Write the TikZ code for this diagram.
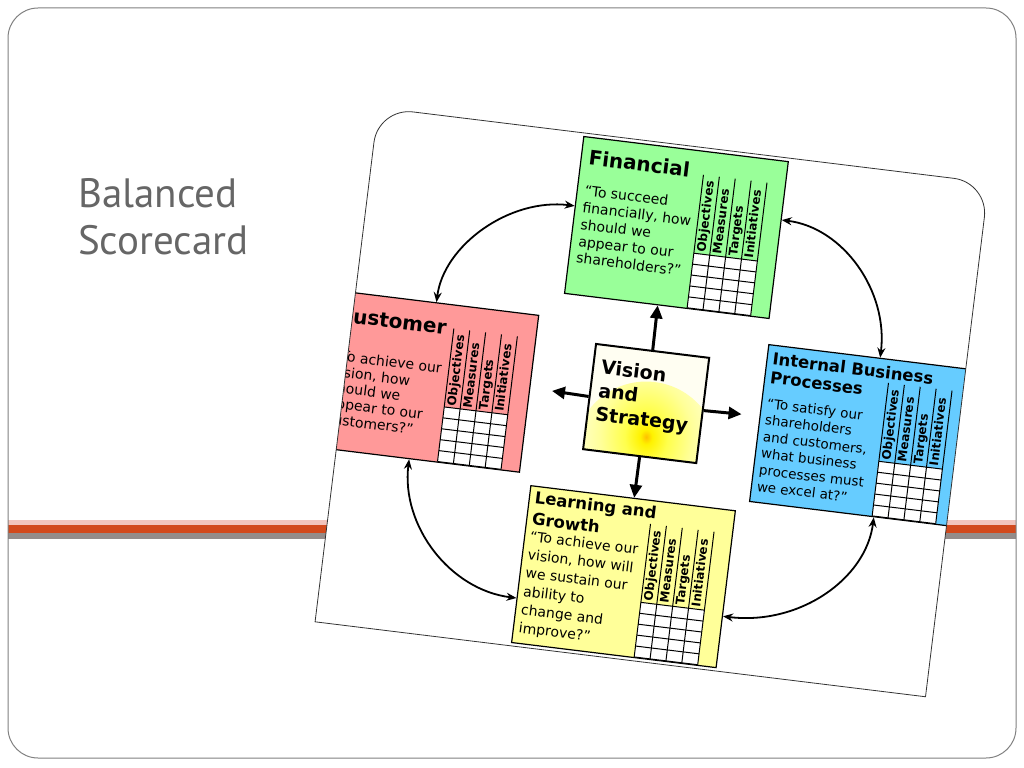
\documentclass[tikz,border=0pt]{standalone}
\usepackage{fontspec}
\setmainfont{DejaVu Sans}
\newfontfamily\slidefont{PT Sans}
\usepackage{xcolor}
\usetikzlibrary{arrows.meta, calc}

\definecolor{fingreen}{HTML}{99FF99}
\definecolor{custpink}{HTML}{FF9999}
\definecolor{procblue}{HTML}{66CCFF}
\definecolor{learnyellow}{HTML}{FFFF99}
\definecolor{bandorange}{HTML}{D2491C}
\definecolor{bandpink}{HTML}{F2C4BC}
\definecolor{bandgray}{HTML}{948C8A}
\definecolor{titlegray}{HTML}{666666}

\pgfdeclareradialshading{vsglow}{\pgfpoint{0bp}{0bp}}{color(0bp)=(orange!50!yellow); color(2bp)=(yellow!90!orange); color(7bp)=(yellow!70!white); color(15bp)=(yellow!40!white); color(25bp)=(yellow!15!white); color(34bp)=(yellow!5!white); color(50bp)=(yellow!5!white)}

\begin{document}
\begin{tikzpicture}[x=1bp, y=-1bp,
    perspbox/.style={rectangle, draw=black, line width=1.2bp, anchor=north west, inner sep=0pt, minimum width=206bp, minimum height=158bp},
    vsbox/.style={rectangle, draw=black, line width=2bp, anchor=north west, inner sep=0pt, minimum width=114bp, minimum height=106bp, fill=yellow!5!white,
        path picture={\shade[shading=vsglow] ($(path picture bounding box.south)!0.08!(path picture bounding box.north)$) circle (72);}},
    boxtitle/.style={anchor=base west, inner sep=0pt, font=\bfseries\fontsize{20bp}{24bp}\selectfont},
    boxquote/.style={anchor=base west, inner sep=0pt, font=\fontsize{14bp}{17bp}\selectfont},
    colhead/.style={rotate=90, anchor=base west, inner sep=0pt, font=\bfseries\fontsize{12bp}{12bp}\selectfont},
    linkarrow/.style={{Stealth[length=10bp,width=8bp]}-{Stealth[length=10bp,width=8bp]}, line width=1.8bp},
    pusharrow/.style={-{Triangle[length=13bp,width=12bp]}, line width=3bp}]
    \useasboundingbox (0,0) rectangle (1024,768);

    % slide band and frame
    \fill[bandpink] (8,520) rectangle (1016,525);
    \fill[bandorange] (8,525) rectangle (1016,533);
    \fill[bandgray] (8,533) rectangle (1016,539);
    \draw[black!50, line width=1bp, rounded corners=30bp] (8,8) rectangle (1016,758);

    \node[anchor=base west, inner sep=0pt, text=titlegray, font=\slidefont\fontsize{41bp}{47bp}\selectfont] (title) at (78,207) {\parbox[t]{300bp}{Balanced\\Scorecard}};

    % the tilted scorecard picture
    \begin{scope}[shift={(650,405)}, rotate=-7, transform shape]
    \fill[white] (-306,256) -- (-306,-227) arc[start angle=180, end angle=270, radius=35] -- (274,-262) arc[start angle=270, end angle=360, radius=35] -- (309,256) -- cycle;
    \begin{scope}
    \clip (-306,256) -- (-306,-227) arc[start angle=180, end angle=270, radius=35] -- (274,-262) arc[start angle=270, end angle=360, radius=35] -- (309,256) -- cycle;

    \node[perspbox, fill=fingreen] (fin) at (-99,-259) {};
    \node[perspbox, fill=custpink] (cust) at (-328,-76) {};
    \node[perspbox, fill=procblue] (proc) at (110,-75) {};
    \node[perspbox, fill=learnyellow] (learn) at (-109,94) {};

    % measure tables
    \foreach \bx/\by in {-99/-259, -328/-76, 110/-75, -109/94} {
        \begin{scope}[shift={(\bx,\by)}]
        \fill[white] (124,103) rectangle (188,158);
        \foreach \c in {124,140,...,188} \draw[line width=1bp] (\c,24) -- (\c,158);
        \foreach \r in {103,114,...,158} \draw[line width=1bp] (124,\r) -- (188,\r);
        \foreach \h [count=\i] in {Objectives,Measures,Targets,Initiatives}
            \node[colhead] (head\i) at ({119.3+16*\i},101) {\h};
        \end{scope}
    }

    \begin{scope}[shift={(-99,-259)}]
    \node[boxtitle] (fintitle) at (8,28) {Financial};
    \node[boxquote] (finquote) at (8,59) {\parbox[t]{120bp}{“To succeed\\financially, how\\should we\\appear to our\\shareholders?”}};
    \end{scope}

    \begin{scope}[shift={(-328,-76)}]
    \node[boxtitle] (custtitle) at (8,31) {Customer};
    \node[boxquote, font=\fontsize{14bp}{16bp}\selectfont] (custquote) at (8,70) {\parbox[t]{120bp}{“To achieve our\\vision, how\\should we\\appear to our\\customers?”}};
    \end{scope}

    \begin{scope}[shift={(110,-75)}]
    \node[boxtitle, font=\bfseries\fontsize{16.5bp}{19bp}\selectfont] (proctitle) at (6,20) {\parbox[t]{200bp}{Internal Business\\Processes}};
    \node[boxquote, font=\fontsize{13.5bp}{16.7bp}\selectfont] (procquote) at (6,64) {\parbox[t]{120bp}{“To satisfy our\\shareholders\\and customers,\\what business\\processes must\\we excel at?”}};
    \end{scope}

    \begin{scope}[shift={(-109,94)}]
    \node[boxtitle, font=\bfseries\fontsize{16.5bp}{21.5bp}\selectfont] (learntitle) at (6,18) {\parbox[t]{200bp}{Learning and\\Growth}};
    \node[boxquote, font=\fontsize{14bp}{18.4bp}\selectfont] (learnquote) at (6,56) {\parbox[t]{120bp}{“To achieve our\\vision, how will\\we sustain our\\ability to\\change and\\improve?”}};
    \end{scope}

    % vision and strategy
    \node[vsbox] (vs) at (-62,-55) {};
    \node[anchor=base west, inner sep=0pt, font=\bfseries\fontsize{19bp}{23.5bp}\selectfont] (vstext) at (-53,-25) {\parbox[t]{100bp}{Vision\\and\\Strategy}};

    \coordinate (vsleft) at (-99,-2);
    \coordinate (vsright) at (92,-2);
    \draw[pusharrow] (vs.north) -- ($(fin.south west)!0.456!(fin.south east)$);
    \draw[pusharrow] (vs.south) -- ($(learn.north west)!0.505!(learn.north east)$);
    \draw[pusharrow] (vs.west) -- (vsleft);
    \draw[pusharrow] (vs.east) -- (vsright);

    % links between perspectives
    \draw[linkarrow] ($(fin.north west)!0.443!(fin.south west)$) .. controls +(-66,0) and +(0,-57) .. (cust.north);
    \draw[linkarrow] ($(fin.north east)!0.373!(fin.south east)$) .. controls +(62,0) and +(0,-67) .. ($(proc.north west)!0.544!(proc.north east)$);
    \draw[linkarrow] ($(cust.south west)!0.461!(cust.south east)$) .. controls +(0,67) and +(-67,0) .. ($(learn.north west)!0.715!(learn.south west)$);
    \draw[linkarrow] ($(proc.south west)!0.607!(proc.south east)$) .. controls +(0,62) and +(77,0) .. ($(learn.north east)!0.671!(learn.south east)$);
    \end{scope}

    \draw[black!80, line width=0.8bp] (-306,256) -- (-306,-227) arc[start angle=180, end angle=270, radius=35] -- (274,-262) arc[start angle=270, end angle=360, radius=35] -- (309,256) -- cycle;
    \end{scope}
\end{tikzpicture}
\end{document}
